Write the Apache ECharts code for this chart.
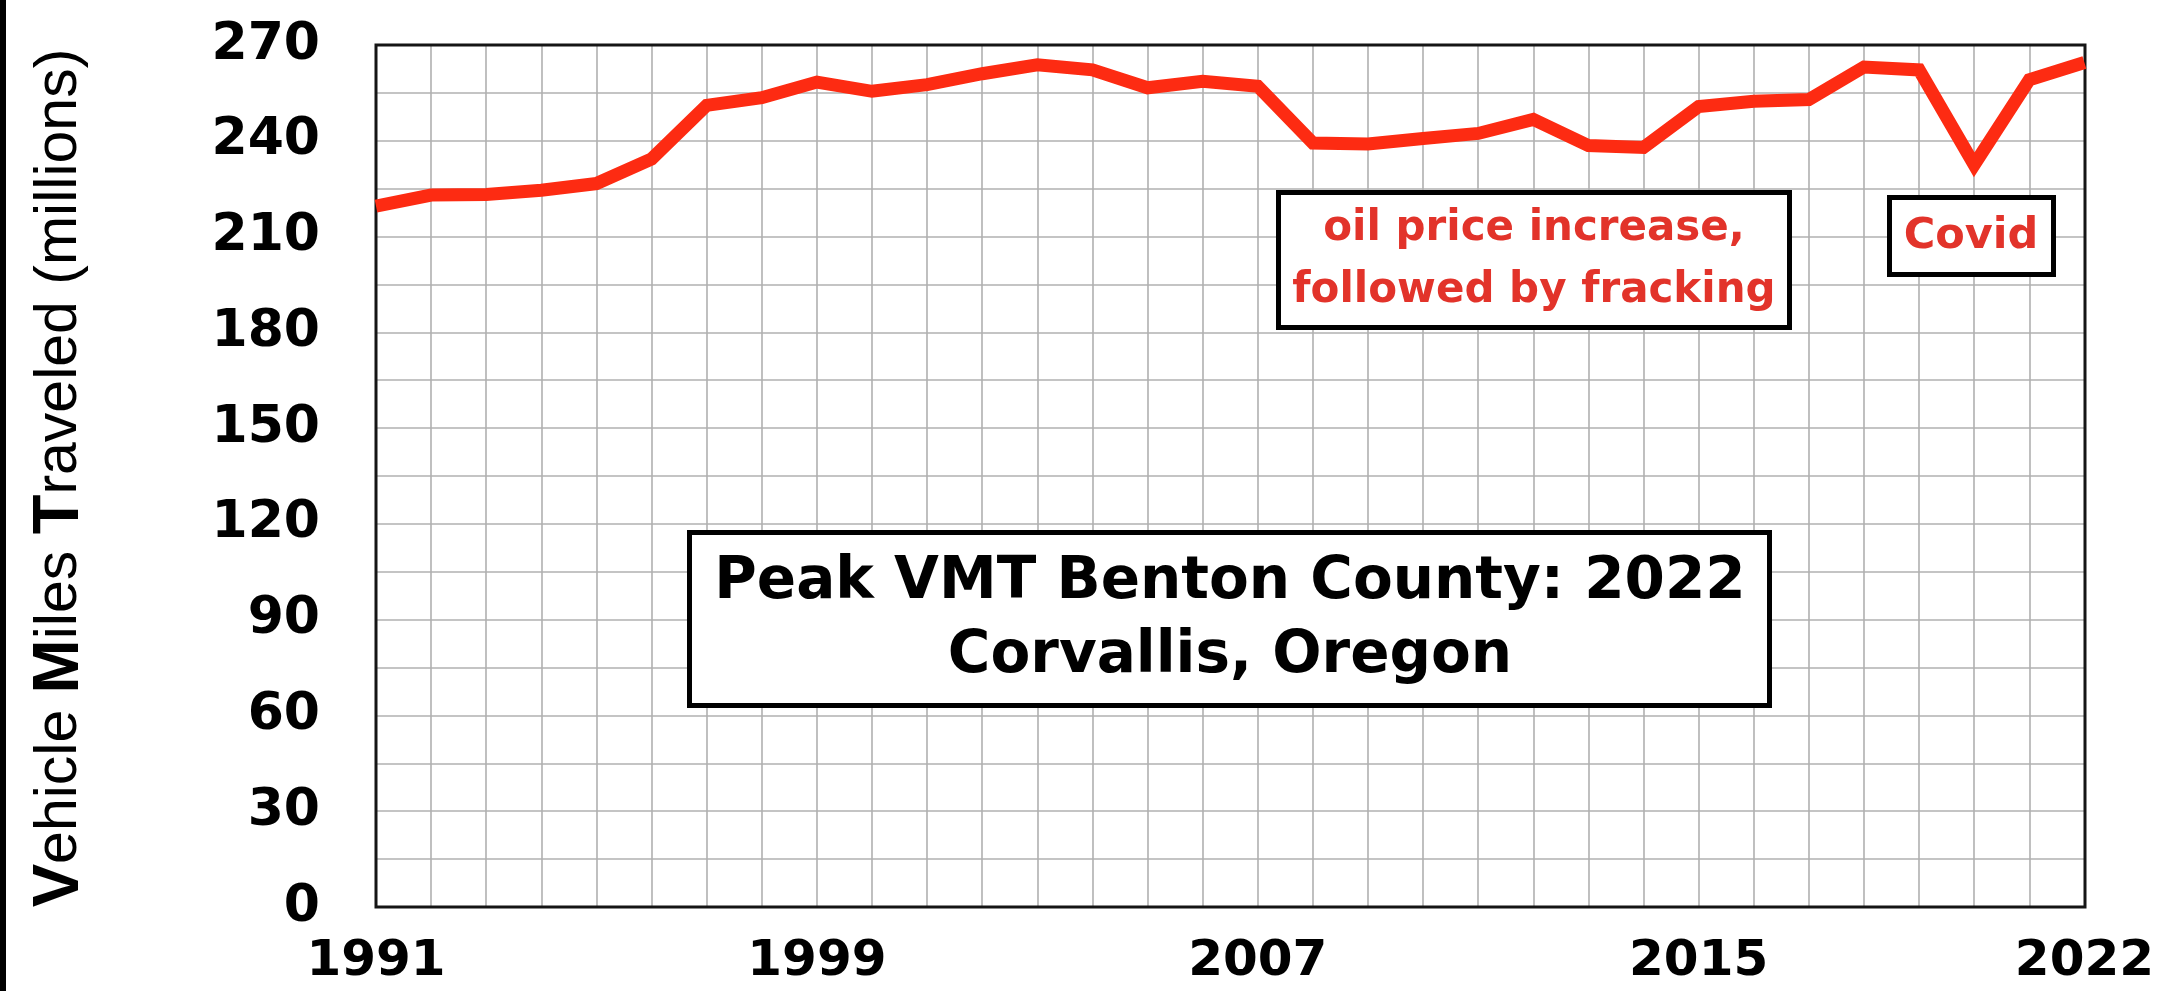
<!DOCTYPE html>
<html>
<head>
<meta charset="utf-8">
<script src="https://cdn.jsdelivr.net/npm/echarts@6/dist/echarts.min.js"></script>
<style>
  html, body { margin: 0; padding: 0; background: #fff; }
  #chart { width: 2157px; height: 991px; }
</style>
</head>
<body>
<div id="chart"></div>
<script>
// ---- data ----
const years = ['1991','1992','1993','1994','1995','1996','1997','1998','1999','2000',
               '2001','2002','2003','2004','2005','2006','2007','2008','2009','2010',
               '2011','2012','2013','2014','2015','2016','2017','2018','2019','2020',
               '2021','2022'];
const vmt = [219.5, 223, 223.2, 224.5, 226.6, 234.3, 251.1, 253.5, 258.4, 255.5,
             257.6, 261, 263.8, 262.2, 256.6, 258.6, 257.1, 239.3, 239, 240.7,
             242.3, 246.7, 238.5, 237.9, 250.7, 252.4, 252.9, 263.1, 262.2, 232.5,
             259.1, 264.5];
const xLabelYears = ['1991', '1999', '2007', '2015', '2022'];
const yTicks = [0, 30, 60, 90, 120, 150, 180, 210, 240, 270];
const yTitleParts = ['V', 'ehicle ', 'M', 'iles ', 'T', 'raveled (millions)'];
const titleLines = ['Peak VMT Benton County: 2022', 'Corvallis, Oregon'];
const oilLines = ['oil price increase,', 'followed by fracking'];
const covidText = 'Covid';

const chart = echarts.init(document.getElementById('chart'), null, { renderer: 'canvas' });

const gridColor = '#b0b0b0';
const lineRed = '#fd2b12';
const textRed = '#e2332a';

const G = { left: 376, right: 72, top: 45, bottom: 84 };
const W = 2157, H = 991;

const yTitleText = yTitleParts.map((p, i) => (i % 2 === 0 ? '{b|' + p + '}' : p)).join('');

const option = {
  backgroundColor: '#ffffff',
  animation: false,
  grid: {
    left: G.left, right: G.right, top: G.top, bottom: G.bottom,
    show: true, backgroundColor: '#ffffff', borderWidth: 0
  },
  xAxis: {
    type: 'category',
    data: years,
    boundaryGap: false,
    axisLine: { show: false },
    axisTick: { show: false },
    axisLabel: {
      interval: (idx, val) => xLabelYears.includes(val),
      fontFamily: 'DejaVu Sans', fontWeight: 'bold', fontSize: 50, color: '#000',
      margin: 30
    },
    splitLine: { show: true, interval: 0, lineStyle: { color: gridColor, width: 1.6 } }
  },
  yAxis: {
    type: 'value',
    min: yTicks[0], max: yTicks[yTicks.length - 1], interval: yTicks[1] - yTicks[0],
    axisLine: { show: false },
    axisTick: { show: false },
    axisLabel: {
      fontFamily: 'DejaVu Sans', fontWeight: 'bold', fontSize: 52, color: '#000',
      margin: 56
    },
    splitLine: { show: true, lineStyle: { color: gridColor, width: 1.6 } },
    minorTick: { show: false, splitNumber: 2 },
    minorSplitLine: { show: true, lineStyle: { color: gridColor, width: 1.6 } }
  },
  series: [{
    type: 'line',
    data: vmt,
    symbol: 'none',
    smooth: false,
    clip: true,
    lineStyle: { color: lineRed, width: 13, join: 'miter', cap: 'butt' },
    z: 3
  }],
  graphic: [
    { type: 'rect', left: 0, top: 0, shape: { width: 6, height: H }, style: { fill: '#000' } },
    // plot frame on top of grid lines
    { type: 'rect', z: 2, silent: true,
      shape: { x: G.left, y: G.top, width: W - G.left - G.right, height: H - G.top - G.bottom },
      style: { fill: null, stroke: '#151515', lineWidth: 3 } },
    {
      type: 'text', x: 60, y: 478, rotation: Math.PI / 2,
      style: {
        text: yTitleText,
        fontFamily: 'Liberation Sans', fontSize: 59, fill: '#000',
        align: 'center', verticalAlign: 'middle',
        rich: { b: { fontFamily: 'Liberation Sans', fontSize: 65, fontWeight: 'bold', fill: '#000' } }
      }
    },
    // oil price box
    { type: 'rect', z: 10, shape: { x: 1278.5, y: 192.5, width: 511, height: 135 },
      style: { fill: '#fff', stroke: '#000', lineWidth: 5 } },
    { type: 'text', z: 11, x: 1534, y: 260,
      style: { text: oilLines.join('\n'), fontFamily: 'DejaVu Sans', fontWeight: 'bold', fontSize: 42,
               lineHeight: 62, fill: textRed, align: 'center', verticalAlign: 'middle' } },
    // covid box
    { type: 'rect', z: 10, shape: { x: 1889.5, y: 197.5, width: 164, height: 77 },
      style: { fill: '#fff', stroke: '#000', lineWidth: 5 } },
    { type: 'text', z: 11, x: 1971, y: 237,
      style: { text: covidText, fontFamily: 'DejaVu Sans', fontWeight: 'bold', fontSize: 43,
               fill: textRed, align: 'center', verticalAlign: 'middle' } },
    // title box
    { type: 'rect', z: 10, shape: { x: 689.5, y: 532.5, width: 1080, height: 173 },
      style: { fill: '#fff', stroke: '#000', lineWidth: 5 } },
    { type: 'text', z: 11, x: 1230, y: 620,
      style: { text: titleLines.join('\n'), fontFamily: 'DejaVu Sans', fontWeight: 'bold', fontSize: 58,
               lineHeight: 74, fill: '#000', align: 'center', verticalAlign: 'middle' } }
  ]
};
chart.setOption(option);
</script>
</body>
</html>
